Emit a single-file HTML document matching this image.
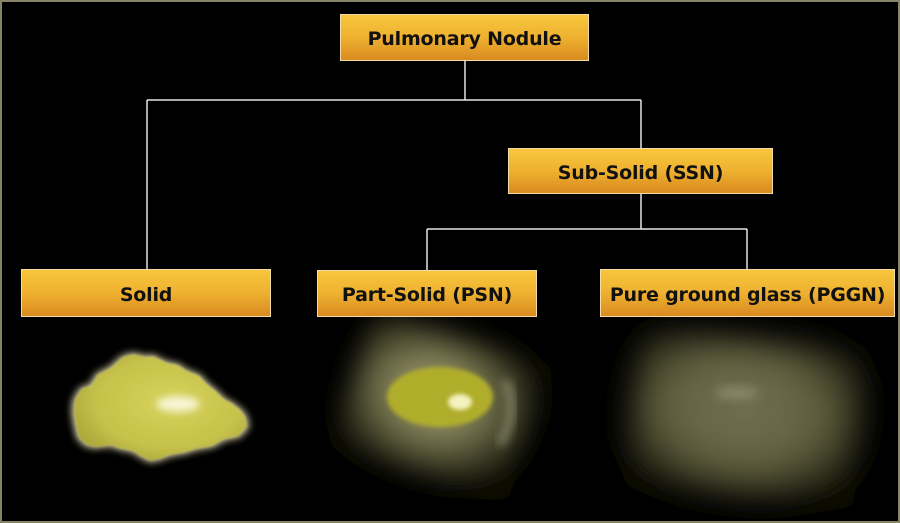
<!DOCTYPE html>
<html><head><meta charset="utf-8">
<style>
html,body{margin:0;padding:0;background:#000;}
#wrap{position:relative;width:900px;height:523px;background:#000;overflow:hidden;}
#frame{position:absolute;left:0;top:0;width:896px;height:519px;border:2px solid #858565;pointer-events:none;}
.box{position:absolute;box-sizing:border-box;border:1px solid #efdca8;background:linear-gradient(to bottom,#f8c63c 0%,#eeb130 50%,#d98a20 100%);
font-family:"DejaVu Sans","Liberation Sans",sans-serif;font-weight:bold;font-size:19px;color:#111;display:flex;align-items:center;justify-content:center;white-space:nowrap;padding-top:3px;letter-spacing:-0.2px;}
svg{position:absolute;left:0;top:0;}
</style></head><body>
<div id="wrap">
<svg width="900" height="523" viewBox="0 0 900 523">
<defs>
<filter id="b1" x="-50%" y="-50%" width="200%" height="200%"><feGaussianBlur stdDeviation="1"/></filter>
<filter id="b2" x="-50%" y="-50%" width="200%" height="200%"><feGaussianBlur stdDeviation="2"/></filter>
<filter id="b4" x="-50%" y="-50%" width="200%" height="200%"><feGaussianBlur stdDeviation="4"/></filter>
<filter id="b5" x="-50%" y="-50%" width="200%" height="200%"><feGaussianBlur stdDeviation="5"/></filter>
<filter id="u14" filterUnits="userSpaceOnUse" x="0" y="0" width="900" height="523"><feGaussianBlur stdDeviation="13"/></filter>
<filter id="u16" filterUnits="userSpaceOnUse" x="0" y="0" width="900" height="523"><feGaussianBlur stdDeviation="15"/></filter>
<radialGradient id="ps" cx="45%" cy="45%" r="60%">
<stop offset="0" stop-color="#a9a77a"/><stop offset="0.45" stop-color="#76744e"/><stop offset="0.8" stop-color="#33331f"/><stop offset="1" stop-color="#0a0a05"/>
</radialGradient>
<radialGradient id="pg" cx="48%" cy="45%" r="60%">
<stop offset="0" stop-color="#727050"/><stop offset="0.55" stop-color="#626140"/><stop offset="0.85" stop-color="#2e2e1c"/><stop offset="1" stop-color="#080805"/>
</radialGradient>
<radialGradient id="so" cx="55%" cy="45%" r="60%">
<stop offset="0" stop-color="#d6d25a"/><stop offset="0.7" stop-color="#c6c24a"/><stop offset="1" stop-color="#aca83a"/>
</radialGradient>
</defs>
<g stroke="#e6e6e6" stroke-width="1.5" fill="none">
<path d="M465 61 V100 M147 100 H641 M147 100 V269 M641 100 V148 M641 194 V229 M427 229 H747 M427 229 V270 M747 229 V269"/>
</g>
<!-- Solid nodule -->
<g>
<path d="M73 400 L80 388 L90 385 L96 374 L110 367 L122 356 L133 353 L145 356 L153 355 L167 362 L178 364 L187 370 L200 375 L207 383 L217 391 L225 399 L233 403 L242 410 L247 417 L249 427 L240 437 L225 440 L213 447 L195 450 L187 453 L170 456 L160 460 L150 462 L140 457 L133 452 L118 449 L110 446 L95 448 L85 446 L77 438 L74 425 L72 412 Z" fill="#fff8c8" filter="url(#b4)" opacity="0.95"/>
<path d="M73 400 L80 388 L90 385 L96 374 L110 367 L122 356 L133 353 L145 356 L153 355 L167 362 L178 364 L187 370 L200 375 L207 383 L217 391 L225 399 L233 403 L242 410 L247 417 L249 427 L240 437 L225 440 L213 447 L195 450 L187 453 L170 456 L160 460 L150 462 L140 457 L133 452 L118 449 L110 446 L95 448 L85 446 L77 438 L74 425 L72 412 Z" fill="url(#so)" filter="url(#b1)" transform="translate(161 408) scale(0.975) translate(-161 -408)"/>
<ellipse cx="178" cy="404" rx="22" ry="8" fill="#f8f5d4" filter="url(#b4)"/>
</g>
<!-- Part-solid nodule -->
<g filter="url(#u14)">
<rect x="348" y="333" width="186" height="146" rx="10" fill="url(#ps)" transform="rotate(18 440 405)"/>
</g>
<path d="M505 380 Q520 410 500 445" stroke="#b8b898" stroke-width="6" fill="none" filter="url(#b5)" opacity="0.7"/>
<ellipse cx="440" cy="397" rx="53" ry="30" fill="#b0ad2c" filter="url(#b2)"/>
<ellipse cx="460" cy="402" rx="12" ry="8" fill="#f4f2c0" filter="url(#b2)"/>
<!-- PGGN -->
<g filter="url(#u16)">
<rect x="630" y="338" width="232" height="160" rx="12" fill="url(#pg)" transform="rotate(6 745 417)"/>
</g>
<ellipse cx="737" cy="393" rx="22" ry="6" fill="#8a8a68" filter="url(#b5)"/>
</svg>
<div class="box" style="left:340px;top:14px;width:249px;height:47px;">Pulmonary Nodule</div>
<div class="box" style="left:508px;top:148px;width:265px;height:46px;">Sub-Solid (SSN)</div>
<div class="box" style="left:21px;top:269px;width:250px;height:48px;">Solid</div>
<div class="box" style="left:317px;top:270px;width:220px;height:47px;">Part-Solid (PSN)</div>
<div class="box" style="left:600px;top:269px;width:295px;height:48px;">Pure ground glass (PGGN)</div>
<div id="frame"></div>
</div>
</body></html>
